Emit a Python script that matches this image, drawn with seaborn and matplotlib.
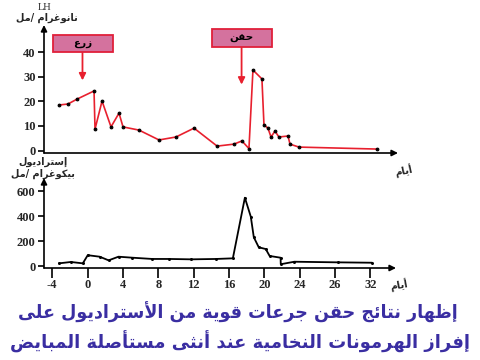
import numpy as np
import pandas as pd
import seaborn as sns
import matplotlib
matplotlib.use("Agg")
import matplotlib.pyplot as plt
from matplotlib.patches import Rectangle

# ---------------- data ----------------
lh_days = [-3.24, -2.23, -1.21, 0.70, 0.81, 1.60, 2.61, 3.51, 3.96, 5.76, 8.01, 9.92,
           11.95, 14.55, 16.44, 17.34, 18.13, 18.58, 19.59, 19.82, 20.27, 20.61, 21.06,
           21.5, 22.52, 22.75, 23.76, 32.53]
lh_values = [18.5, 18.9, 20.9, 24.2, 8.7, 20.1, 9.6, 15.2, 9.6, 8.3, 4.3, 5.5,
             9.1, 1.8, 2.6, 3.9, 0.8, 32.7, 29.1, 10.4, 9.1, 5.5, 7.9,
             5.5, 5.9, 2.6, 1.4, 0.6]

e2_days = [-3.24, -1.89, -0.54, 0.02, 1.37, 2.38, 3.5, 5.08, 7.33, 9.25, 11.72, 14.53,
           16.44, 17.8, 18.47, 18.81, 19.37, 20.16, 20.6, 21.84, 21.86, 23.4, 28.37, 32.2]
e2_values = [25, 36, 25, 90, 78, 49, 78, 70, 60, 60, 57, 60,
             65, 548, 397, 233, 153, 139, 84, 70, 18, 38, 33, 30]

lh_yticks = [0, 10, 20, 30, 40]
e2_yticks = [0, 200, 400, 600]
x_tick_pos = [-4, 0, 4, 8, 12, 16, 20, 24, 28, 32]
x_tick_labels = ["-4", "0", "4", "8", "12", "16", "20", "24", "26", "32"]

implant_day = 0.0
inject_day = 17.3

# ---------------- simple Arabic shaping ----------------
FORMS = {'ء': (0xFE80, 'U'), 'آ': (0xFE81, 'R'), 'أ': (0xFE83, 'R'), 'ؤ': (0xFE85, 'R'),
         'إ': (0xFE87, 'R'), 'ئ': (0xFE89, 'D'), 'ا': (0xFE8D, 'R'), 'ب': (0xFE8F, 'D'),
         'ة': (0xFE93, 'R'), 'ت': (0xFE95, 'D'), 'ث': (0xFE99, 'D'), 'ج': (0xFE9D, 'D'),
         'ح': (0xFEA1, 'D'), 'خ': (0xFEA5, 'D'), 'د': (0xFEA9, 'R'), 'ذ': (0xFEAB, 'R'),
         'ر': (0xFEAD, 'R'), 'ز': (0xFEAF, 'R'), 'س': (0xFEB1, 'D'), 'ش': (0xFEB5, 'D'),
         'ص': (0xFEB9, 'D'), 'ض': (0xFEBD, 'D'), 'ط': (0xFEC1, 'D'), 'ظ': (0xFEC5, 'D'),
         'ع': (0xFEC9, 'D'), 'غ': (0xFECD, 'D'), 'ف': (0xFED1, 'D'), 'ق': (0xFED5, 'D'),
         'ك': (0xFED9, 'D'), 'ل': (0xFEDD, 'D'), 'م': (0xFEE1, 'D'), 'ن': (0xFEE5, 'D'),
         'ه': (0xFEE9, 'D'), 'و': (0xFEED, 'R'), 'ى': (0xFEEF, 'R'), 'ي': (0xFEF1, 'D')}
LAMALEF = {'آ': 0xFEF5, 'أ': 0xFEF7, 'إ': 0xFEF9, 'ا': 0xFEFB}


def ar(s):
    toks = []
    i = 0
    while i < len(s):
        c = s[i]
        if c == 'ل' and i + 1 < len(s) and s[i + 1] in LAMALEF:
            toks.append(('LA', s[i + 1]))
            i += 2
        else:
            toks.append(c)
            i += 1

    def jt(t):
        if isinstance(t, tuple):
            return 'LA'
        return FORMS[t][1] if t in FORMS else None

    out = []
    for k, t in enumerate(toks):
        j = jt(t)
        prev = jt(toks[k - 1]) if k > 0 else None
        nxt = jt(toks[k + 1]) if k + 1 < len(toks) else None
        jp = prev == 'D' and j in ('D', 'R', 'LA')
        jn = j == 'D' and nxt in ('D', 'R', 'LA')
        if j is None:
            out.append(t)
        elif j == 'U':
            out.append(chr(FORMS[t][0]))
        elif j == 'LA':
            out.append(chr(LAMALEF[t[1]] + (1 if jp else 0)))
        elif j == 'R':
            out.append(chr(FORMS[t][0] + (1 if jp else 0)))
        else:
            base = FORMS[t][0]
            if jp and jn:
                out.append(chr(base + 3))
            elif jp:
                out.append(chr(base + 1))
            elif jn:
                out.append(chr(base + 2))
            else:
                out.append(chr(base))
    return ''.join(out)[::-1]


# ---------------- figure ----------------
sns.set_theme(style="white")
plt.rcParams['font.family'] = ['DejaVu Sans']

W, H = 480, 360
fig = plt.figure(figsize=(4.8, 3.6), dpi=100)
fig.patch.set_facecolor('white')

XLIM = (-4.93, 34.9)


def make_ax(left_px, right_px, top_px, bottom_px):
    return fig.add_axes([left_px / W, 1 - bottom_px / H,
                         (right_px - left_px) / W, (bottom_px - top_px) / H])


ax1 = make_ax(44, 398, 25, 153)
ax2 = make_ax(44, 396, 178, 268)

lh_df = pd.DataFrame({"day": lh_days, "LH": lh_values})
e2_df = pd.DataFrame({"day": e2_days, "E2": e2_values})

sns.lineplot(data=lh_df, x="day", y="LH", ax=ax1, color="#e8202e", lw=1.2,
             marker="o", markersize=2.0, markerfacecolor="black",
             markeredgecolor="black", sort=False, estimator=None)
sns.lineplot(data=e2_df, x="day", y="E2", ax=ax2, color="black", lw=1.3,
             marker="o", markersize=1.4, markerfacecolor="black",
             markeredgecolor="black", sort=False, estimator=None)

ax1.set_xlim(*XLIM)
ax1.set_ylim(-1, 51)
ax2.set_xlim(*XLIM)
ax2.set_ylim(-12, 705)

tickfont = dict(family='Liberation Serif', weight='bold', size=9)
for ax in (ax1, ax2):
    for sp in ax.spines.values():
        sp.set_visible(False)
    ax.set_xlabel("")
    ax.set_ylabel("")
    ax.patch.set_alpha(0)
    ax.annotate("", xy=(1, 0), xytext=(0, 0), xycoords='axes fraction',
                arrowprops=dict(arrowstyle='-|>', color='black', lw=1.2,
                                mutation_scale=9, shrinkA=0, shrinkB=0))
    ax.annotate("", xy=(0, 1), xytext=(0, 0), xycoords='axes fraction',
                arrowprops=dict(arrowstyle='-|>', color='black', lw=1.2,
                                mutation_scale=9, shrinkA=0, shrinkB=0))
    ax.tick_params(axis='y', direction='out', length=4, width=1.2, color='black',
                   left=True, pad=2)

ax1.set_xticks([])
ax1.set_yticks(lh_yticks)
ax1.set_yticklabels([str(v) for v in lh_yticks], fontdict=tickfont)

ax2.set_yticks(e2_yticks)
ax2.set_yticklabels([str(v) for v in e2_yticks], fontdict=tickfont)
ax2.set_xticks(x_tick_pos)
ax2.set_xticklabels(x_tick_labels, fontdict=tickfont)
ax2.tick_params(axis='x', direction='out', length=7, width=1.2, color='black',
                bottom=True, pad=1)

# ---- annotation boxes ----
box_fc = "#d4729e"
box_ec = "#e0203a"


def fig_box(x0, y0, x1, y1, label, day, tip_y):
    fig.patches.append(Rectangle((x0 / W, 1 - y1 / H), (x1 - x0) / W, (y1 - y0) / H,
                                 transform=fig.transFigure, facecolor=box_fc,
                                 edgecolor=box_ec, lw=1.3, zorder=5))
    fig.text((x0 + x1) / 2 / W, 1 - (y0 + y1) / 2 / H, ar(label), ha='center',
             va='center', fontsize=7.5, fontweight='bold', family='DejaVu Sans',
             color='black', zorder=6)
    ax1.annotate("", xy=(day, tip_y), xytext=(day, 1 - y1 / H),
                 xycoords=('data', 'data'), textcoords=('data', 'figure fraction'),
                 arrowprops=dict(arrowstyle='-|>', color='#e8202e', lw=1.3,
                                 mutation_scale=10, shrinkA=0, shrinkB=0))


fig_box(53, 35, 113, 52, "زرع", implant_day - 0.6, 28.5)
fig_box(212, 29, 272, 47, "حقن", inject_day, 26.8)

# ---- axis labels ----
fig.text(45 / W, 1 - 7 / H, "LH", ha='center', va='center', fontsize=7.5,
         family='Liberation Serif')
fig.text(47 / W, 1 - 18 / H, ar("نانوغرام /مل"), ha='center', va='center',
         fontsize=7, fontweight='bold')
fig.text(43 / W, 1 - 162 / H, ar("إستراديول"), ha='center', va='center',
         fontsize=7, fontweight='bold')
fig.text(43 / W, 1 - 174 / H, ar("بيكوغرام /مل"), ha='center', va='center',
         fontsize=7, fontweight='bold')
fig.text(404 / W, 1 - 171 / H, ar("أيام"), ha='center', va='center',
         fontsize=7, fontweight='bold', rotation=12)
fig.text(399 / W, 1 - 286 / H, ar("أيام"), ha='center', va='center',
         fontsize=7, fontweight='bold', rotation=10)

# ---- title (font size fitted to the reference line widths) ----
title_color = "#3a2ea2"
title_lines = ["إظهار نتائج حقن جرعات قوية من الأستراديول على",
               "إفراز الهرمونات النخامية عند أنثى مستأصلة المبايض"]
title_specs = [(238, 312, 440), (240, 342, 458)]
renderer = fig.canvas.get_renderer()
for line, (cx, cy, target_w) in zip(title_lines, title_specs):
    t = fig.text(cx / W, 1 - cy / H, ar(line), ha='center', va='center',
                 fontsize=16, fontweight='bold', color=title_color)
    w = t.get_window_extent(renderer).width
    t.set_fontsize(16 * target_w / w)

fig.savefig("out.png", dpi=100, facecolor='white')
